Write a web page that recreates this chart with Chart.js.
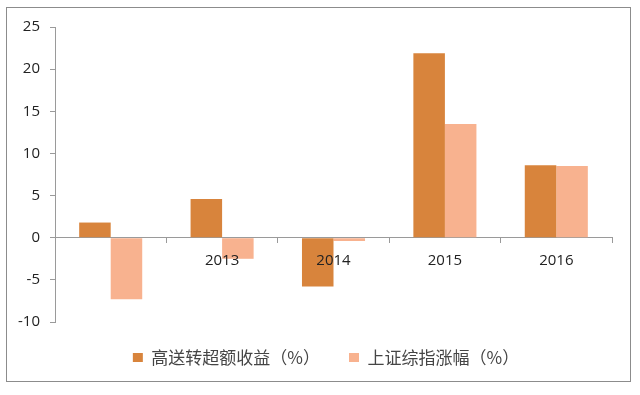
<!DOCTYPE html>
<html>
<head>
<meta charset="utf-8">
<script src="https://cdn.jsdelivr.net/npm/chart.js@4/dist/chart.umd.min.js"></script>
<style>
html,body{margin:0;padding:0;background:#fff;}
#wrap{position:relative;width:640px;height:395px;}
#frame{position:absolute;left:6px;top:7px;width:625px;height:375px;border:1px solid #8c8c8c;box-sizing:border-box;pointer-events:none;}
canvas{position:absolute;left:0;top:0;}
</style>
</head>
<body>
<div id="wrap">
<canvas id="c" width="640" height="395"></canvas>
<div id="frame"></div>
</div>
<script>
const categories = ['', '2013', '2014', '2015', '2016'];
const seriesNames = ['高送转超额收益（%）', '上证综指涨幅（%）'];
const excessReturn = [1.8, 4.6, -5.8, 21.9, 8.6];
const indexChange = [-7.3, -2.5, -0.4, 13.5, 8.5];
const yTicks = [-10, -5, 0, 5, 10, 15, 20, 25];

const legendShift = {
  id: 'legendShift',
  afterLayout(chart) {
    const lg = chart.legend;
    if (lg) { lg.top -= 2; lg.bottom -= 2; lg.left += 20; lg.right += 20; }
  }
};

new Chart(document.getElementById('c'), {
  type: 'bar',
  data: {
    labels: categories,
    datasets: [
      { label: seriesNames[0], data: excessReturn, backgroundColor: '#D8843C', borderWidth: 0,
        categoryPercentage: 0.566, barPercentage: 1.0 },
      { label: seriesNames[1], data: indexChange, backgroundColor: '#F8B28F', borderWidth: 0,
        categoryPercentage: 0.566, barPercentage: 1.0 }
    ]
  },
  options: {
    responsive: false,
    animation: false,
    devicePixelRatio: 1,
    layout: { padding: { left: 0, right: 28, top: 27, bottom: 17 } },
    plugins: {
      tooltip: { enabled: false },
      legend: {
        position: 'bottom',
        labels: {
          boxWidth: 10, boxHeight: 9, padding: 29,
          color: '#454545',
          font: { family: '"Noto Sans CJK SC"', size: 17 }
        }
      }
    },
    scales: {
      x: {
        position: { y: 0 },
        offset: true,
        grid: { offset: true, drawOnChartArea: false, tickLength: 5, color: '#9a9a9a' },
        border: { color: '#9a9a9a', width: 1 },
        ticks: { z: 1, color: '#222', padding: 9, font: { family: '"Open Sans"', size: 15 }, maxRotation: 0 }
      },
      y: {
        min: -10, max: 25,
        afterFit(scale) { scale.width = 55; },
        afterBuildTicks(scale) { scale.ticks = yTicks.map(v => ({ value: v })); },
        grid: { drawOnChartArea: false, tickLength: 5, color: '#9a9a9a' },
        border: { color: '#9a9a9a', width: 1 },
        ticks: { color: '#222', padding: 10, font: { family: '"Open Sans"', size: 15 } }
      }
    }
  },
  plugins: [legendShift]
});
</script>
</body>
</html>
